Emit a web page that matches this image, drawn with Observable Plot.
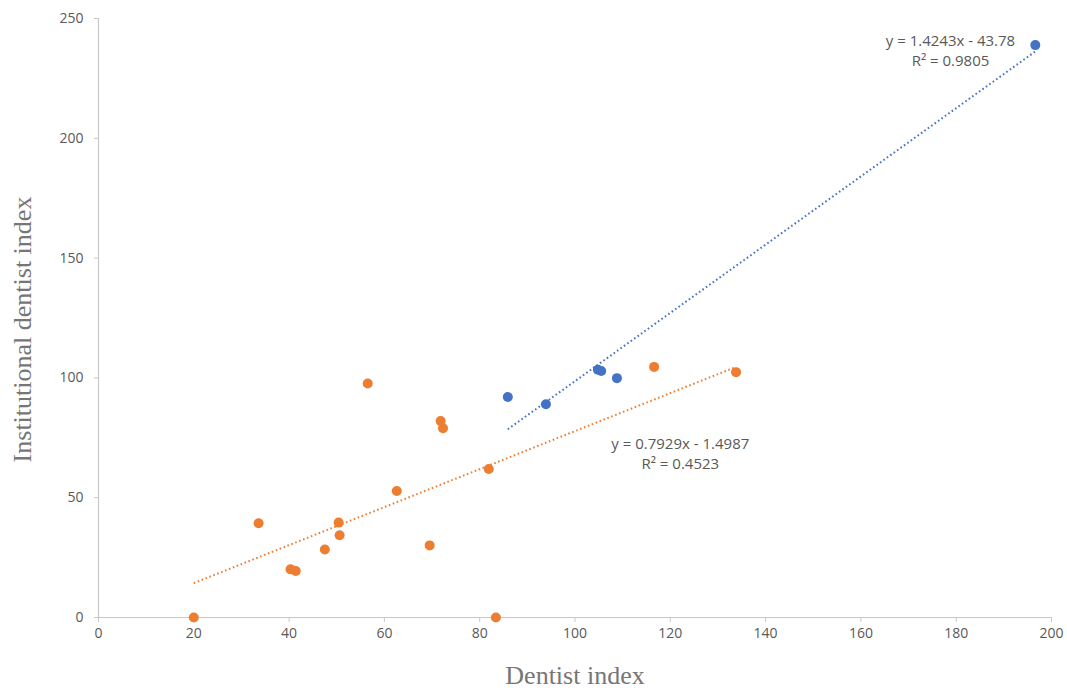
<!DOCTYPE html>
<html>
<head>
<meta charset="utf-8">
<script src="https://cdn.jsdelivr.net/npm/d3@7"></script>
<script src="https://cdn.jsdelivr.net/npm/@observablehq/plot@0.6"></script>
<style>
  html, body { margin: 0; padding: 0; background: #fff; }
  #chart { width: 1067px; height: 695px; }
</style>
</head>
<body>
<div id="chart"></div>
<script>
// Orange series
const orangeX = [20, 33.6, 40.3, 41.4, 47.5, 50.4, 50.6, 56.5, 62.6, 69.5, 71.8, 72.3, 81.9, 83.4, 116.6, 133.8];
const orangeY = [0, 39.3, 20.1, 19.4, 28.4, 39.6, 34.3, 97.7, 52.8, 30.1, 82, 79, 62, 0, 104.6, 102.4];
// Blue series
const blueX = [85.9, 93.9, 104.8, 105.5, 108.8, 196.6];
const blueY = [92, 89, 103.4, 102.9, 99.9, 238.9];
// Trendline coefficients (from the chart labels)
const trendSlope = [0.7929, 1.4243];
const trendIntercept = [-1.4987, -43.78];
const trendR2 = ["0.4523", "0.9805"];
const seriesNames = ["orange", "blue"];
const xTicks = [0, 20, 40, 60, 80, 100, 120, 140, 160, 180, 200];
const yTicks = [0, 50, 100, 150, 200, 250];

const colors = {orange: "#ED7D31", blue: "#4472C4"};
const orange = orangeX.map((x, i) => ({x, y: orangeY[i], s: "orange"}));
const blue = blueX.map((x, i) => ({x, y: blueY[i], s: "blue"}));
const groups = [orange, blue];

const trendLines = seriesNames.map((s, k) => {
  const xs = groups[k].map(d => d.x);
  const x0 = d3.min(xs), x1 = d3.max(xs);
  return [x0, x1].map(x => ({x, y: trendSlope[k] * x + trendIntercept[k], s}));
});

const fmtEq = k => `y = ${trendSlope[k]}x - ${Math.abs(trendIntercept[k])}\nR² = ${trendR2[k]}`;

const plot = Plot.plot({
  width: 1067,
  height: 695,
  marginLeft: 98,
  marginRight: 16,
  marginTop: 18,
  marginBottom: 78,
  style: {fontFamily: "'Open Sans', sans-serif", fontSize: "14px", color: "#595959", background: "#fff"},
  x: {domain: [0, 200], ticks: xTicks},
  y: {domain: [0, 250], ticks: yTicks},
  marks: [
    Plot.ruleY([0], {stroke: "#c8c8c8", strokeWidth: 1.2}),
    Plot.ruleX([0], {stroke: "#c8c8c8", strokeWidth: 1.2}),
    Plot.axisX({ticks: xTicks, tickSize: 5, tickPadding: 6, stroke: "#c8c8c8", color: "#595959", fontSize: 14, label: null}),
    Plot.axisY({ticks: yTicks, tickSize: 4, tickPadding: 11, stroke: "#c8c8c8", color: "#595959", fontSize: 14, label: null}),
    ...trendLines.map(t => Plot.line(t, {x: "x", y: "y", stroke: colors[t[0].s], strokeWidth: 2, strokeDasharray: "1.6,2.6", strokeLinecap: "butt"})),
    Plot.dot(orange, {x: "x", y: "y", r: 5, fill: colors.orange, stroke: "none"}),
    Plot.dot(blue, {x: "x", y: "y", r: 5, fill: colors.blue, stroke: "none"}),
    Plot.text([fmtEq(1)], {x: 178.8, y: 240.5, text: d => d, fill: "#595959", fontSize: 15, lineHeight: 1.33, textAnchor: "middle", lineAnchor: "top", dy: -9}),
    Plot.text([fmtEq(0)], {x: 122.1, y: 72.5, text: d => d, fill: "#595959", fontSize: 15, lineHeight: 1.33, textAnchor: "middle", lineAnchor: "top", dy: -9}),
    Plot.text(["Dentist index"], {frameAnchor: "bottom", dy: 66, text: d => d, fill: "#767676", fontSize: 26, fontFamily: "'Liberation Serif', serif"}),
    Plot.text(["Institutional dentist index"], {frameAnchor: "left", textAnchor: "middle", dx: -76, dy: 11.5, rotate: -90, text: d => d, fill: "#767676", fontSize: 26, fontFamily: "'Liberation Serif', serif"})
  ]
});
document.getElementById("chart").appendChild(plot);
</script>
</body>
</html>
